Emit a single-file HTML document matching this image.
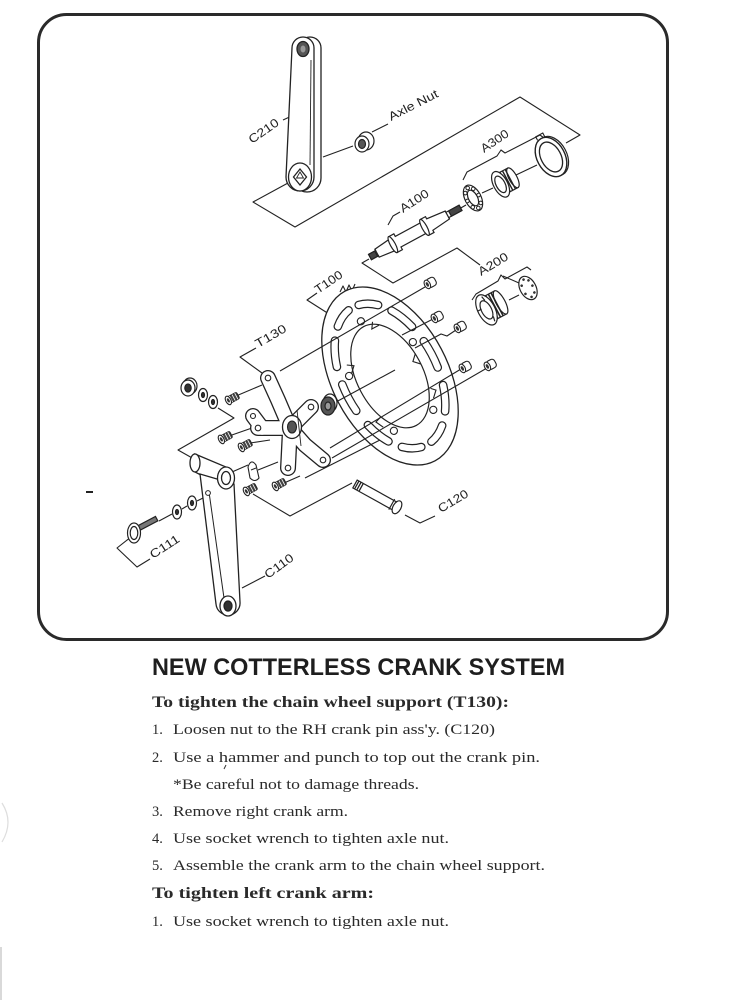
<!DOCTYPE html>
<html><head><meta charset="utf-8">
<style>
html,body{margin:0;padding:0;background:#fff;}
svg{display:block;}
</style></head><body>
<svg width="753" height="1000" viewBox="0 0 753 1000" xmlns="http://www.w3.org/2000/svg">
<defs>
 <g id="bolt">
  <g transform="rotate(-28)">
   <rect x="-3" y="-4.5" width="9" height="9" rx="3" fill="#fff" stroke="#222" stroke-width="1.1"/>
   <ellipse cx="-3" cy="0" rx="2.8" ry="4.6" fill="#fff" stroke="#222" stroke-width="1.1"/>
   <ellipse cx="-3" cy="0" rx="1.3" ry="2.5" fill="#333"/>
  </g>
 </g>
 <g id="screw">
  <g transform="rotate(-28)">
   <rect x="-3" y="-3.5" width="11" height="7" rx="1.5" fill="#444" stroke="#222" stroke-width="1"/>
   <line x1="0" y1="-3.5" x2="0" y2="3.5" stroke="#fff" stroke-width="0.8"/>
   <line x1="3" y1="-3.5" x2="3" y2="3.5" stroke="#fff" stroke-width="0.8"/>
   <line x1="6" y1="-3.5" x2="6" y2="3.5" stroke="#fff" stroke-width="0.8"/>
   <ellipse cx="-3" cy="0" rx="2.6" ry="4.6" fill="#fff" stroke="#222" stroke-width="1.1"/>
   <ellipse cx="-3" cy="0" rx="1.2" ry="2.3" fill="#333"/>
  </g>
 </g>
</defs>
<rect width="753" height="1000" fill="#fff"/>

<path d="M2,803 Q14,822 2,842" fill="none" stroke="#ddd" stroke-width="1.2"/>
<line x1="1" y1="947" x2="1" y2="1000" stroke="#ccc" stroke-width="1.5"/>

<rect x="38.5" y="14.5" width="629" height="625" rx="28" fill="none" stroke="#2a2a2a" stroke-width="3"/>

<g fill="none" stroke="#222" stroke-width="1.1" stroke-linejoin="round">
 <line x1="283" y1="120" x2="296" y2="114"/>
 <line x1="323" y1="157" x2="353" y2="146"/>
 <line x1="372" y1="132" x2="388" y2="124"/>
 <polyline points="288,183 253,202 295,227 520,97 580,135 566,143"/>
 <path d="M463,180 L467,172 L497,156 L501,150 L505,153 L540,135 L544,138"/>
 <line x1="482" y1="193" x2="493" y2="188"/>
 <line x1="516" y1="175" x2="537" y2="165"/>
 <line x1="459" y1="209" x2="466" y2="205"/>
 <path d="M388,225 L393,216 L400,212"/>
 <polyline points="369,259 362,263 393,283 457,248 480,265"/>
 <path d="M472,300 L476,294 L498,281 L501,275 L505,279 L527,267 L531,270"/>
 <line x1="503" y1="276" x2="519" y2="283"/>
 <line x1="509" y1="300" x2="519" y2="295"/>
 <path d="M317,293 L307,300 L329,314"/>
 <path d="M340,292 L343,286 L346,292 L349,285 L352,291 L355,284"/>
 <path d="M256,348 L240,357 L262,373"/>
 <line x1="236" y1="396" x2="262" y2="385"/>
 <polyline points="218,408 234,418 178,450 194,459"/>
 <line x1="229" y1="436" x2="252" y2="428"/>
 <line x1="250" y1="443" x2="270" y2="440"/>
 <line x1="258" y1="470" x2="278" y2="462"/>
 <line x1="284" y1="483" x2="300" y2="476"/>
 <line x1="232" y1="472" x2="248" y2="465"/>
 <polyline points="253,494 290,516 352,483"/>
 <polyline points="405,515 420,523 435,516"/>
 <line x1="159" y1="521" x2="172" y2="514"/>
 <line x1="182" y1="509" x2="187" y2="506"/>
 <line x1="197" y1="501" x2="205" y2="497"/>
 <polyline points="131,537 117,548 137,567 150,559"/>
 <line x1="242" y1="588" x2="265" y2="576"/>
</g>
<line x1="86" y1="492" x2="93" y2="492" stroke="#222" stroke-width="2"/>

<g stroke="#222" stroke-width="1.3" fill="#fff">
 <path d="M299,48 A11,11 0 0 1 321,48 L321,178 A14,14 0 0 1 293,178 Z"/>
 <path d="M292,48 A11,11 0 0 1 314,48 L314,177 A14,14 0 0 1 286,177 Z"/>
 <line x1="311" y1="60" x2="310" y2="165" stroke-width="0.9"/>
 <ellipse cx="303" cy="49" rx="6" ry="7.5" fill="#555"/>
 <ellipse cx="303" cy="49" rx="2.5" ry="3.5" fill="#999" stroke="none"/>
 <ellipse cx="300" cy="177" rx="11.5" ry="14"/>
 <path d="M300,169 L306.5,177 L300,185 L293.5,177 Z"/>
 <path d="M300,172 L303.5,178 L296.5,178 Z" stroke-width="0.9"/>
</g>

<g stroke="#222" stroke-width="1.2" fill="#fff">
 <ellipse cx="366" cy="141" rx="8" ry="9"/>
 <ellipse cx="362" cy="144" rx="7" ry="8"/>
 <ellipse cx="362" cy="144" rx="3.5" ry="4.5" fill="#555"/>
</g>

<g transform="translate(551,157) rotate(-28)" stroke="#222" fill="#fff">
 <ellipse cx="2" cy="0" rx="14" ry="21" stroke-width="1.2"/>
 <ellipse cx="0" cy="0" rx="14" ry="21" stroke-width="1.4"/>
 <ellipse cx="0" cy="0" rx="10" ry="16" stroke-width="1.3"/>
 <path d="M-4,-21 L-4,-25 L4,-25 L4,-21" fill="none" stroke-width="1.1"/>
</g>
<g transform="translate(505,182) rotate(-28)" stroke="#222" fill="#fff" stroke-width="1.2">
 <rect x="-5" y="-11" width="14" height="22"/>
 <ellipse cx="9" cy="0" rx="4" ry="11"/>
 <g stroke-width="1.4"><line x1="0" y1="-11" x2="0" y2="11"/><line x1="3" y1="-11" x2="3" y2="11"/><line x1="6" y1="-11" x2="6" y2="11"/></g>
 <ellipse cx="-5" cy="0" rx="7" ry="14"/>
 <ellipse cx="-5" cy="0" rx="4.5" ry="9"/>
</g>
<g transform="translate(473,198) rotate(-28)" stroke="#222" fill="#fff" stroke-width="1.2">
 <ellipse cx="0" cy="0" rx="8" ry="14"/>
 <ellipse cx="0" cy="0" rx="4.5" ry="8.5"/>
 <g fill="#fff" stroke-width="1">
  <circle cx="6.3" cy="0" r="1.8"/><circle cx="4.5" cy="8" r="1.8"/><circle cx="0" cy="11.3" r="1.8"/>
  <circle cx="-4.5" cy="8" r="1.8"/><circle cx="-6.3" cy="0" r="1.8"/><circle cx="-4.5" cy="-8" r="1.8"/>
  <circle cx="0" cy="-11.3" r="1.8"/><circle cx="4.5" cy="-8" r="1.8"/>
 </g>
</g>

<g transform="translate(370,257) rotate(-28.5)" stroke="#222" fill="#fff" stroke-width="1.2">
 <path d="M0,-3 L8,-3 L8,-4.5 L26,-6.5 L26,-9 L32,-9 L32,-6 L62,-6 L62,-9 L68,-9 L68,-6.5 L88,-4.5 L88,-3 L103,-3 L103,3 L88,3 L88,4.5 L68,6.5 L68,9 L62,9 L62,6 L32,6 L32,9 L26,9 L26,6.5 L8,4.5 L8,3 L0,3 Z"/>
 <ellipse cx="26" cy="0" rx="2.5" ry="9"/>
 <ellipse cx="62" cy="0" rx="2.5" ry="9"/>
 <rect x="0" y="-3" width="7" height="6" fill="#444"/>
 <rect x="91" y="-3" width="12" height="6" fill="#444"/>
 <line x1="8" y1="-4.5" x2="8" y2="4.5"/>
 <line x1="88" y1="-4.5" x2="88" y2="4.5"/>
</g>

<g transform="translate(490,308) rotate(-28)" stroke="#222" fill="#fff" stroke-width="1.2">
 <rect x="-4" y="-13" width="16" height="26"/>
 <ellipse cx="12" cy="0" rx="4.5" ry="13"/>
 <g stroke-width="1.6"><line x1="2" y1="-13" x2="2" y2="13"/><line x1="5" y1="-13" x2="5" y2="13"/><line x1="8" y1="-13" x2="8" y2="13"/></g>
 <ellipse cx="-4" cy="0" rx="8.5" ry="16.5"/>
 <ellipse cx="-4" cy="0" rx="5" ry="10"/>
 <line x1="-12" y1="-3" x2="-8" y2="-3"/>
 <line x1="-2" y1="-14" x2="-1" y2="-9"/>
 <line x1="-2" y1="14" x2="-1" y2="9"/>
</g>
<g transform="translate(528,288) rotate(-28)" stroke="#222" fill="#fff" stroke-width="1.2">
 <ellipse cx="0" cy="0" rx="8" ry="12.5"/>
 <g fill="#333" stroke="none">
  <circle cx="5" cy="0" r="1.3"/><circle cx="3.5" cy="7" r="1.3"/><circle cx="-1" cy="9.5" r="1.3"/>
  <circle cx="-5" cy="4" r="1.3"/><circle cx="-4.5" cy="-5" r="1.3"/><circle cx="0" cy="-9.5" r="1.3"/><circle cx="4" cy="-6.5" r="1.3"/>
 </g>
</g>

<g transform="translate(390,376) rotate(-28)" stroke="#222">
 <ellipse cx="0" cy="0" rx="58" ry="96" fill="#fff" stroke-width="1.3"/>
 <path fill="none" stroke="#222" stroke-width="8.6" stroke-linecap="round" d="M46.14,-14.88 A47,78 0 0 1 46.14,14.88 M42.60,32.96 A47,78 0 0 1 32.05,57.05 M22.79,68.22 A47,78 0 0 1 5.73,77.42 M-5.73,77.42 A47,78 0 0 1 -22.79,68.22 M-32.05,57.05 A47,78 0 0 1 -42.60,32.96 M-46.14,14.88 A47,78 0 0 1 -46.14,-14.88 M-42.60,-32.96 A47,78 0 0 1 -32.05,-57.05 M-22.79,-68.22 A47,78 0 0 1 -5.73,-77.42 M5.73,-77.42 A47,78 0 0 1 22.79,-68.22 M32.05,-57.05 A47,78 0 0 1 42.60,-32.96"/>
 <path fill="none" stroke="#fff" stroke-width="6.2" stroke-linecap="round" d="M46.14,-14.88 A47,78 0 0 1 46.14,14.88 M42.60,32.96 A47,78 0 0 1 32.05,57.05 M22.79,68.22 A47,78 0 0 1 5.73,77.42 M-5.73,77.42 A47,78 0 0 1 -22.79,68.22 M-32.05,57.05 A47,78 0 0 1 -42.60,32.96 M-46.14,14.88 A47,78 0 0 1 -46.14,-14.88 M-42.60,-32.96 A47,78 0 0 1 -32.05,-57.05 M-22.79,-68.22 A47,78 0 0 1 -5.73,-77.42 M5.73,-77.42 A47,78 0 0 1 22.79,-68.22 M32.05,-57.05 A47,78 0 0 1 42.60,-32.96"/>
 <ellipse cx="0" cy="0" rx="33" ry="56" fill="#fff" stroke-width="1.2"/>
 <g fill="#fff" stroke-width="1.1">
  <circle cx="22.3" cy="50.2" r="3.6"/><circle cx="-22.3" cy="50.2" r="3.6"/>
  <circle cx="-36.1" cy="-19.2" r="3.6"/><circle cx="0" cy="-62" r="3.6"/><circle cx="36.1" cy="-19.2" r="3.6"/>
 </g>
 <g fill="none" stroke-width="1.1">
  <path d="M28,40 L34,34 L30,30"/><path d="M-30,42 L-34,34 L-28,32"/>
  <path d="M-33,-30 L-27,-26 L-33,-20"/><path d="M10,-56 L6,-50 L14,-50"/><path d="M33,-8 L27,-2 L33,4"/>
 </g>
</g>

<g fill="none" stroke="#222" stroke-width="1.1">
 <line x1="280" y1="371" x2="425" y2="287"/>
 <line x1="433" y1="319" x2="402" y2="335"/>
 <polyline points="456,330 447,336 441,334 415,348"/>
 <line x1="461" y1="369" x2="330" y2="448"/>
 <line x1="487" y1="368" x2="332" y2="458"/>
 <line x1="336" y1="402" x2="395" y2="370"/>
 <line x1="305" y1="478" x2="380" y2="440"/>
</g>

<use href="#bolt" x="430" y="283"/>
<use href="#bolt" x="437" y="317"/>
<use href="#bolt" x="460" y="327"/>
<use href="#bolt" x="465" y="367"/>
<use href="#bolt" x="490" y="365"/>

<g fill="none" stroke-linecap="round" stroke-linejoin="round">
 <g stroke="#222" stroke-width="16">
  <polyline points="290,428 278,400 268,378"/>
  <line x1="290" y1="428" x2="311" y2="407"/>
  <polyline points="290,428 305,445 323,460"/>
  <line x1="290" y1="428" x2="288" y2="468"/>
  <line x1="290" y1="428" x2="258" y2="428"/>
  <line x1="262" y1="428" x2="253" y2="416"/>
 </g>
 <g stroke="#fff" stroke-width="13.4">
  <polyline points="290,428 278,400 268,378"/>
  <line x1="290" y1="428" x2="311" y2="407"/>
  <polyline points="290,428 305,445 323,460"/>
  <line x1="290" y1="428" x2="288" y2="468"/>
  <line x1="290" y1="428" x2="258" y2="428"/>
  <line x1="262" y1="428" x2="253" y2="416"/>
 </g>
</g>
<g stroke="#222" stroke-width="1.1" fill="#fff">
 <circle cx="268" cy="378" r="2.8"/><circle cx="311" cy="407" r="2.8"/>
 <circle cx="323" cy="460" r="2.8"/><circle cx="288" cy="468" r="2.8"/>
 <circle cx="258" cy="428" r="2.8"/><circle cx="253" cy="416" r="2.5"/>
 <ellipse cx="292" cy="427" rx="9.5" ry="11.5" stroke-width="1.3"/>
 <ellipse cx="292" cy="427" rx="4.5" ry="6" fill="#555"/>
 <line x1="297" y1="410" x2="301" y2="446" stroke-width="0.9"/>
</g>
<g stroke="#222" stroke-width="1.2">
 <ellipse cx="330" cy="403" rx="7" ry="9" fill="#fff"/>
 <ellipse cx="328" cy="406" rx="7" ry="9" fill="#555"/>
 <ellipse cx="328" cy="406" rx="3" ry="4" fill="#999"/>
</g>

<g stroke="#222" stroke-width="1.2" fill="#fff">
 <ellipse cx="190" cy="386" rx="7" ry="8"/>
 <ellipse cx="188" cy="388" rx="7" ry="8"/>
 <ellipse cx="188" cy="388" rx="3.2" ry="4" fill="#333"/>
 <ellipse cx="203" cy="395" rx="4.5" ry="6.5"/>
 <ellipse cx="203" cy="395" rx="1.5" ry="2.5" fill="#333"/>
 <ellipse cx="213" cy="402" rx="4.5" ry="6.5"/>
 <ellipse cx="213" cy="402" rx="1.5" ry="2.5" fill="#333"/>
</g>
<use href="#screw" x="231" y="399"/>
<use href="#screw" x="224" y="438"/>
<use href="#screw" x="244" y="446"/>
<use href="#screw" x="249" y="490"/>
<use href="#screw" x="278" y="485"/>
<path d="M248,467 Q251,458 256,465 L259,478 Q255,483 250,478 Z" fill="#fff" stroke="#222" stroke-width="1.1"/>
<line x1="251" y1="470" x2="256" y2="468" stroke="#222" stroke-width="1"/>

<g stroke="#222" stroke-width="1.3" fill="#fff">
 <path d="M195,454 L226,467 L226,488 L195,472 Z"/>
 <ellipse cx="195" cy="463" rx="5" ry="9"/>
 <path d="M200,474 L216,604 A12,12 0 0 0 240,602 L234,484 Z"/>
 <line x1="209" y1="492" x2="224" y2="598" stroke-width="1"/>
 <ellipse cx="226" cy="478" rx="8.5" ry="11"/>
 <ellipse cx="226" cy="478" rx="4.5" ry="6.5"/>
 <circle cx="208" cy="493" r="2.4" stroke-width="1"/>
 <ellipse cx="228" cy="606" rx="8" ry="10"/>
 <ellipse cx="228" cy="606" rx="4" ry="5" fill="#333"/>
</g>

<g stroke="#222" stroke-width="1.2" fill="#fff">
 <g transform="translate(139,528) rotate(-28)">
  <rect x="0" y="-2.5" width="20" height="5" fill="#777"/>
 </g>
 <ellipse cx="134" cy="533" rx="6.5" ry="10"/>
 <ellipse cx="134" cy="533" rx="3.8" ry="6.5"/>
 <ellipse cx="177" cy="512" rx="4.5" ry="7"/>
 <ellipse cx="177" cy="512" rx="1.5" ry="2.5" fill="#333"/>
 <ellipse cx="192" cy="503" rx="4.5" ry="7"/>
 <ellipse cx="192" cy="503" rx="1.5" ry="2.5" fill="#333"/>
</g>

<g transform="translate(355,484) rotate(29)" stroke="#222" stroke-width="1.2" fill="#fff">
 <rect x="0" y="-4.5" width="48" height="9"/>
 <g stroke-width="1.3"><line x1="2" y1="-4.5" x2="2" y2="4.5"/><line x1="4.5" y1="-4.5" x2="4.5" y2="4.5"/><line x1="7" y1="-4.5" x2="7" y2="4.5"/></g>
 <ellipse cx="48" cy="0" rx="4" ry="7"/>
 <line x1="42" y1="-6" x2="42" y2="6"/>
</g>

<g font-family="'Liberation Sans', sans-serif" font-size="12" fill="#222">
 <text x="252" y="144" transform="rotate(-35 252 144)" textLength="34" lengthAdjust="spacingAndGlyphs">C210</text>
 <text x="391" y="121" transform="rotate(-27 391 121)" textLength="54" lengthAdjust="spacingAndGlyphs">Axle Nut</text>
 <text x="484" y="153" transform="rotate(-34 484 153)" textLength="31" lengthAdjust="spacingAndGlyphs">A300</text>
 <text x="403" y="213" transform="rotate(-33 403 213)" textLength="32" lengthAdjust="spacingAndGlyphs">A100</text>
 <text x="481" y="276" transform="rotate(-31 481 276)" textLength="33" lengthAdjust="spacingAndGlyphs">A200</text>
 <text x="318" y="294" transform="rotate(-34 318 294)" textLength="31" lengthAdjust="spacingAndGlyphs">T100</text>
 <text x="258" y="348" transform="rotate(-30 258 348)" textLength="34" lengthAdjust="spacingAndGlyphs">T130</text>
 <text x="441" y="513" transform="rotate(-31 441 513)" textLength="33" lengthAdjust="spacingAndGlyphs">C120</text>
 <text x="153" y="559" transform="rotate(-33 153 559)" textLength="33" lengthAdjust="spacingAndGlyphs">C111</text>
 <text x="268" y="579" transform="rotate(-36 268 579)" textLength="33" lengthAdjust="spacingAndGlyphs">C110</text>
</g>

<text x="152" y="675" font-family="'Liberation Sans', sans-serif" font-weight="bold" font-size="24" fill="#1e1e1e" textLength="413" lengthAdjust="spacingAndGlyphs">NEW COTTERLESS CRANK SYSTEM</text>
<g font-family="'Liberation Serif', serif" fill="#2a2a2a">
 <text x="152" y="707" font-weight="bold" font-size="16" textLength="357" lengthAdjust="spacingAndGlyphs">To tighten the chain wheel support (T130):</text>
 <g font-size="14.5">
  <text x="152" y="734">1.</text>
  <text x="173" y="734" textLength="322" lengthAdjust="spacingAndGlyphs">Loosen nut to the RH crank pin ass'y. (C120)</text>
  <text x="152" y="762">2.</text>
  <text x="173" y="762" textLength="367" lengthAdjust="spacingAndGlyphs">Use a hammer and punch to top out the crank pin.</text>
  <text x="173" y="789" textLength="246" lengthAdjust="spacingAndGlyphs">*Be careful not to damage threads.</text>
  <text x="152" y="816">3.</text>
  <text x="173" y="816" textLength="175" lengthAdjust="spacingAndGlyphs">Remove right crank arm.</text>
  <text x="152" y="843">4.</text>
  <text x="173" y="843" textLength="276" lengthAdjust="spacingAndGlyphs">Use socket wrench to tighten axle nut.</text>
  <text x="152" y="870">5.</text>
  <text x="173" y="870" textLength="372" lengthAdjust="spacingAndGlyphs">Assemble the crank arm to the chain wheel support.</text>
 </g>
 <text x="152" y="898" font-weight="bold" font-size="16" textLength="222" lengthAdjust="spacingAndGlyphs">To tighten left crank arm:</text>
 <g font-size="14.5">
  <text x="152" y="926">1.</text>
  <text x="173" y="926" textLength="276" lengthAdjust="spacingAndGlyphs">Use socket wrench to tighten axle nut.</text>
 </g>
</g>
<line x1="224" y1="769" x2="226" y2="765" stroke="#333" stroke-width="1"/>
</svg>
</body></html>
